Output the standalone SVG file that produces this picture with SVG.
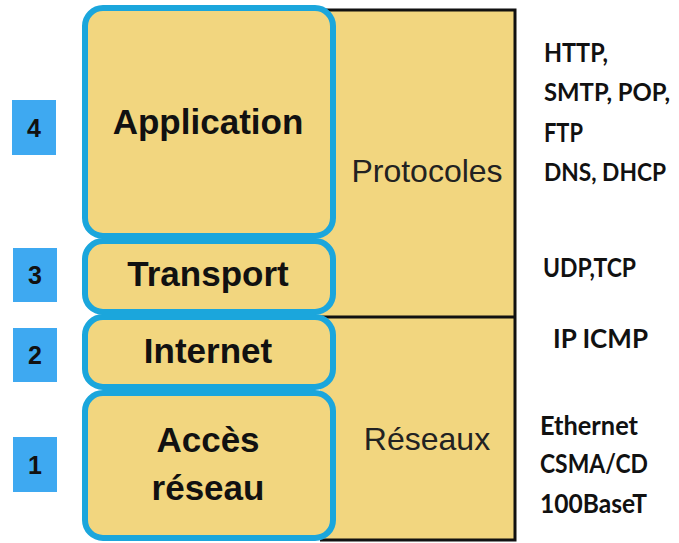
<svg xmlns="http://www.w3.org/2000/svg" width="679" height="543" viewBox="0 0 679 543">
  <style>
    .layer { fill: #f2d67f; stroke: #1ba6dc; stroke-width: 6; }
    .num { fill: #3ea9f1; }
    .numt { font-family: "Liberation Sans", Arial, sans-serif; font-weight: bold; font-size: 25px; fill: #111; text-anchor: middle; }
    .lt { font-family: "Liberation Sans", Arial, sans-serif; font-weight: bold; font-size: 35px; fill: #111; text-anchor: middle; }
    .ct { font-family: "Liberation Sans", Arial, sans-serif; font-size: 32px; fill: #222; text-anchor: middle; }
    .pt { font-family: Lato, "Open Sans", sans-serif; font-weight: bold; font-size: 26px; fill: #111; }
    .pt.sm { font-size: 24px; }
    .edge { stroke: #111; stroke-width: 3; fill: none; }
  </style>
  <rect width="679" height="543" fill="#ffffff"/>

  <g id="column">
    <rect x="320" y="10" width="195" height="530" fill="#f2d67f"/>
  </g>

  <g id="connectors">
    <path class="edge" d="M320 10 H515 V540 H320"/>
    <line class="edge" x1="320" y1="317" x2="515" y2="317"/>
  </g>

  <g id="protocoles">
    <text class="ct" x="427" y="182">Protocoles</text>
  </g>
  <g id="reseaux">
    <text class="ct" x="427" y="450">Réseaux</text>
  </g>

  <g id="layer-application">
    <rect class="layer" x="85" y="8" width="248" height="228" rx="18"/>
    <text class="lt" x="208" y="134">Application</text>
  </g>
  <g id="layer-transport">
    <rect class="layer" x="85" y="241" width="248" height="71" rx="18"/>
    <text class="lt" x="208" y="286">Transport</text>
  </g>
  <g id="layer-internet">
    <rect class="layer" x="85" y="317" width="248" height="70" rx="18"/>
    <text class="lt" x="208" y="363">Internet</text>
  </g>
  <g id="layer-acces">
    <rect class="layer" x="85" y="393" width="248" height="145" rx="18"/>
    <text class="lt" x="208" y="452">Accès</text>
    <text class="lt" x="208" y="500">réseau</text>
  </g>

  <g id="num-4">
    <rect class="num" x="12" y="100" width="44" height="55"/>
    <text class="numt" x="34" y="137">4</text>
  </g>
  <g id="num-3">
    <rect class="num" x="13" y="248" width="44" height="54"/>
    <text class="numt" x="35" y="284">3</text>
  </g>
  <g id="num-2">
    <rect class="num" x="13" y="328" width="44" height="54"/>
    <text class="numt" x="35" y="364">2</text>
  </g>
  <g id="num-1">
    <rect class="num" x="13" y="437" width="44" height="55"/>
    <text class="numt" x="35" y="474">1</text>
  </g>

  <g id="proto-app">
    <text class="pt" x="544" y="62" textLength="64" lengthAdjust="spacingAndGlyphs">HTTP,</text>
    <text class="pt sm" x="544" y="101" textLength="126" lengthAdjust="spacingAndGlyphs">SMTP, POP,</text>
    <text class="pt" x="544" y="142" textLength="39" lengthAdjust="spacingAndGlyphs">FTP</text>
    <text class="pt sm" x="544" y="181" textLength="122" lengthAdjust="spacingAndGlyphs">DNS, DHCP</text>
  </g>
  <g id="proto-transport">
    <text class="pt" x="543" y="277" textLength="93" lengthAdjust="spacingAndGlyphs">UDP,TCP</text>
  </g>
  <g id="proto-internet">
    <text class="pt" x="553" y="348" textLength="95" lengthAdjust="spacingAndGlyphs">IP ICMP</text>
  </g>
  <g id="proto-acces">
    <text class="pt" x="540" y="435" textLength="98" lengthAdjust="spacingAndGlyphs">Ethernet</text>
    <text class="pt" x="540" y="473" textLength="108" lengthAdjust="spacingAndGlyphs">CSMA/CD</text>
    <text class="pt" x="540" y="513" textLength="107" lengthAdjust="spacingAndGlyphs">100BaseT</text>
  </g>
</svg>
